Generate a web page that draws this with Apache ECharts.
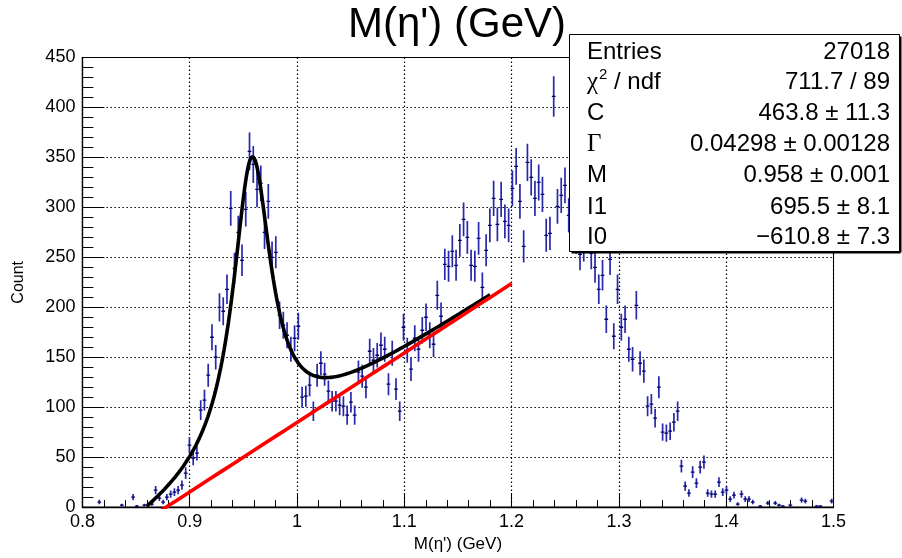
<!DOCTYPE html>
<html>
<head>
<meta charset="utf-8">
<script src="https://cdn.jsdelivr.net/npm/echarts@6/dist/echarts.min.js"></script>
<style>
  html, body { margin: 0; padding: 0; background: #fff; }
  #chart { width: 902px; height: 558px; }
</style>
</head>
<body>
<div id="chart"></div>
<script>
// Histogram binning: 200 bins of 3.5 MeV starting at 0.8 GeV
const histLow = 0.8;
const binWidth = 0.0035;

// Bin contents (entries per bin)
const counts = [
  0, 0, 0, 0, 5, 0, 0, 0, 0, 0,
  2, 0, 0, 10, 1, 0, 2, 0, 3, 17,
  9, 5, 10, 13, 15, 17, 22, 34, 62, 49,
  54, 97, 107, 132, 170, 150, 200, 196, 218, 299,
  239, 275, 247, 298, 356, 343, 318, 324, 275, 306,
  250, 255, 192, 182, 172, 158, 169, 181, 110, 111,
  122, 96, 132, 144, 133, 116, 106, 106, 102, 101,
  92, 105, 92, 135, 131, 120, 156, 147, 152, 162,
  158, 123, 154, 118, 96, 180, 157, 138, 169, 158,
  177, 190, 172, 163, 212, 191, 243, 241, 256, 242,
  267, 288, 270, 242, 241, 269, 220, 257, 282, 309,
  283, 308, 286, 282, 319, 341, 306, 261, 345, 330,
  309, 325, 313, 272, 274, 411, 301, 312, 322, 292,
  300, 270, 253, 262, 280, 254, 240, 218, 232, 188,
  248, 171, 218, 180, 188, 158, 148, 202, 144, 136,
  101, 103, 89, 120, 75, 74, 76, 85, 96, 41,
  21, 14, 35, 24, 40, 45, 14, 13, 13, 25,
  15, 17, 8, 12, 3, 13, 8, 8, 5, 0,
  1, 0, 4, 0, 4, 2, 1, 0, 2, 0,
  0, 7, 6, 0, 0, 1, 1, 0, 0, 6
];

// Axis ticks
const xTicks = [0.8, 0.9, 1.0, 1.1, 1.2, 1.3, 1.4, 1.5];
const xTickLabels = ['0.8', '0.9', '1', '1.1', '1.2', '1.3', '1.4', '1.5'];
const yTicks = [0, 50, 100, 150, 200, 250, 300, 350, 400, 450];
const yTickLabels = ['0', '50', '100', '150', '200', '250', '300', '350', '400', '450'];

// Fit: Breit-Wigner peak + linear background
const fitParNames = ['C', 'Γ', 'M', 'I1', 'I0'];
const fitParValues = [463.8, 0.04298, 0.958, 695.5, -610.8];
const fitParErrors = [11.3, 0.00128, 0.001, 8.1, 7.3];
const fitParValueText = ['463.8', '0.04298', '0.958', '695.5', '\u2212610.8'];
const fitParErrorText = ['11.3', '0.00128', '0.001', '8.1', '7.3'];
const fitRange = [0.86, 1.18];
const bkgRange = [0.86, 1.2];
const entries = 27018;
const chi2 = 711.7;
const ndf = 89;

const [C, G, M, I1, I0] = fitParValues;
function background(x) { return I1 * x + I0; }
function peak(x) {
  const h = G * G / 4;
  return C * (2 / Math.PI) * h / ((x - M) * (x - M) + h);
}
function sampleCurve(fn, range, step) {
  const pts = [];
  const n = Math.round((range[1] - range[0]) / step);
  for (let i = 0; i <= n; i++) {
    const x = range[0] + (range[1] - range[0]) * i / n;
    pts.push([x, fn(x)]);
  }
  return pts;
}
const totalCurve = sampleCurve(x => peak(x) + background(x), fitRange, 0.001);
const bkgCurve = sampleCurve(background, bkgRange, 0.01);

// Histogram points (empty bins are not drawn)
const histData = [];
counts.forEach((c, i) => {
  if (c > 0) histData.push([histLow + binWidth * (i + 0.5), c]);
});

function tickLabel(v, ticks, labels) {
  for (let i = 0; i < ticks.length; i++) if (Math.abs(v - ticks[i]) < 1e-6) return labels[i];
  return '';
}

const FONT = 'Liberation Sans, Arial, Helvetica, sans-serif';
const SERIF = 'Liberation Serif, Times New Roman, serif';

const chart = echarts.init(document.getElementById('chart'), null, { renderer: 'canvas' });

// Statistics box
const boxX = 569.5, boxY = 34.5, boxW = 330, boxH = 217;
const rowY = [52, 82, 113, 144, 175, 207, 237];
const labelX = 587, valueX = 890;
const statsText = [];
function txt(x, y, text, opts) {
  statsText.push(Object.assign({
    type: 'text', z: 110, x: x, y: y,
    style: Object.assign({ text: text, fill: '#000', font: '24px ' + FONT, textVerticalAlign: 'middle', textAlign: 'left' }, opts || {})
  }));
}
txt(labelX, rowY[0], 'Entries');
txt(valueX, rowY[0], String(entries), { textAlign: 'right' });
txt(labelX, rowY[1], 'χ', { font: '25px ' + SERIF });
txt(labelX + 12, rowY[1] - 7, '2', { font: '15px ' + FONT });
txt(labelX + 27, rowY[1], '/ ndf');
txt(valueX, rowY[1], chi2.toFixed(1) + ' / ' + ndf, { textAlign: 'right' });
fitParNames.forEach((n, i) => {
  const serif = n === 'Γ';
  txt(labelX, rowY[i + 2], n, serif ? { font: '25px ' + SERIF } : {});
  txt(valueX, rowY[i + 2], fitParValueText[i] + ' \u00b1 ' + fitParErrorText[i], { textAlign: 'right' });
});

const option = {
  animation: false,
  backgroundColor: '#fff',
  grid: { left: 82.4, right: 68.5, top: 57.5, bottom: 49.5, show: true, borderColor: '#000', borderWidth: 1, backgroundColor: 'transparent' },
  xAxis: {
    type: 'value', min: 0.8, max: 1.5, interval: 0.1,
    name: 'M(η\') (GeV)', nameLocation: 'middle', nameGap: 28,
    nameTextStyle: { fontFamily: FONT, fontSize: 17, color: '#000' },
    axisLine: { show: true, onZero: false, lineStyle: { color: '#000', width: 1.3 } },
    axisTick: { show: true, inside: true, length: 14, lineStyle: { color: '#000', width: 1 } },
    minorTick: { show: true, splitNumber: 5, length: 7, lineStyle: { color: '#000', width: 1 } },
    splitLine: { show: true, lineStyle: { color: '#000', width: 1.2, type: [1.5, 2.5] } },
    axisLabel: { margin: 6, fontFamily: FONT, fontSize: 18, color: '#000', formatter: v => tickLabel(v, xTicks, xTickLabels) }
  },
  yAxis: {
    type: 'value', min: 0, max: 450, interval: 50,
    name: 'Count', nameLocation: 'middle', nameGap: 56,
    nameTextStyle: { fontFamily: FONT, fontSize: 16, color: '#000' },
    axisLine: { show: true, onZero: false, lineStyle: { color: '#000', width: 1.3 } },
    axisTick: { show: true, inside: true, length: 22, lineStyle: { color: '#000', width: 1 } },
    minorTick: { show: true, splitNumber: 5, length: 11, lineStyle: { color: '#000', width: 1 } },
    splitLine: { show: true, lineStyle: { color: '#000', width: 1.2, type: [1.5, 2.5] } },
    axisLabel: { margin: 7, fontFamily: FONT, fontSize: 18, color: '#000', formatter: v => tickLabel(v, yTicks, yTickLabels) }
  },
  series: [
    {
      type: 'custom',
      name: 'data',
      clip: true,
      z: 3,
      data: histData,
      encode: { x: 0, y: 1 },
      renderItem: function (params, api) {
        const x = api.value(0), y = api.value(1), e = Math.sqrt(y);
        const c = api.coord([x, y]);
        const top = api.coord([x, y + e]);
        const bot = api.coord([x, Math.max(y - e, 0)]);
        const l = api.coord([x - binWidth / 2, y]);
        const r = api.coord([x + binWidth / 2, y]);
        return {
          type: 'group',
          children: [
            { type: 'line', shape: { x1: c[0], y1: top[1], x2: c[0], y2: bot[1] }, style: { stroke: '#2828aa', lineWidth: 1.7 } },
            { type: 'line', shape: { x1: l[0], y1: c[1], x2: r[0], y2: c[1] }, style: { stroke: '#000066', lineWidth: 1.3 } }
          ]
        };
      }
    },
    {
      type: 'line', name: 'total fit', data: totalCurve, showSymbol: false, clip: true, z: 4,
      lineStyle: { color: '#000', width: 3.6 }
    },
    {
      type: 'line', name: 'background', data: bkgCurve, showSymbol: false, clip: true, z: 5,
      lineStyle: { color: '#ff0000', width: 3.6 }
    }
  ],
  graphic: [
    {
      type: 'text', z: 50, x: 457, y: 25,
      style: { text: 'M(η\') (GeV)', font: '42px ' + FONT, fill: '#000', textAlign: 'center', textVerticalAlign: 'middle' }
    },
    {
      type: 'rect', z: 100, shape: { x: boxX, y: boxY, width: boxW, height: boxH },
      style: { fill: '#fff', stroke: '#000', lineWidth: 1 }
    },
    {
      type: 'line', z: 101, shape: { x1: boxX + 2, y1: boxY + boxH + 1, x2: boxX + boxW + 1, y2: boxY + boxH + 1 },
      style: { stroke: '#000', lineWidth: 2 }
    },
    {
      type: 'line', z: 101, shape: { x1: boxX + boxW + 1, y1: boxY + 2, x2: boxX + boxW + 1, y2: boxY + boxH + 1 },
      style: { stroke: '#000', lineWidth: 2 }
    }
  ].concat(statsText)
};

chart.setOption(option);
</script>
</body>
</html>
